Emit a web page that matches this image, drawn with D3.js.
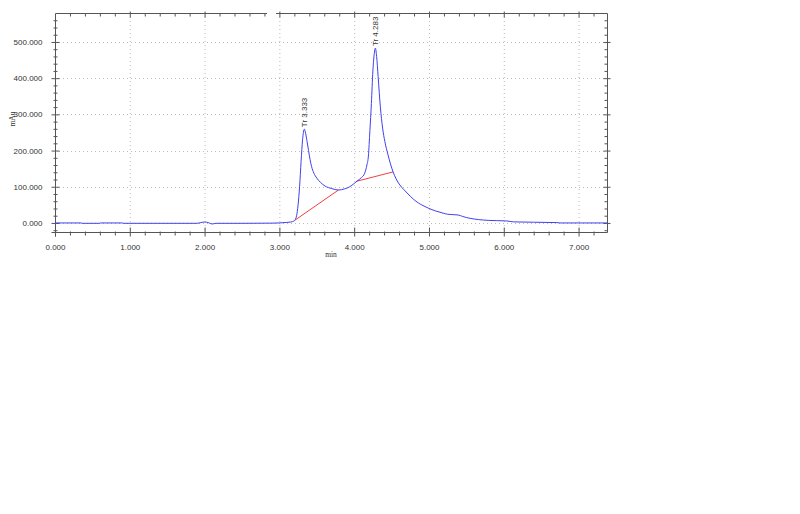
<!DOCTYPE html>
<html lang="en">
	<head>
		<meta charset="utf-8">
		<title>Chromatogram</title>
		<script src="https://d3js.org/d3.v7.min.js"></script>
		<style type="text/css">
			body { margin: 0; background: #fff; }
			svg { display: block; background: #fff; }
			.tick text { font-family: "Liberation Sans", Arial, sans-serif; font-size: 8px; fill: #333; }
			.tick line { stroke: #555; }
			.grid line { stroke: #bbb; stroke-width: 1px; stroke-dasharray: 1,3; }
			.frame { stroke: #555; stroke-width: 1px; fill: none; }
			.axis-title { font-family: "Liberation Serif", "Times New Roman", serif; font-size: 7.5px; fill: #333; }
			.peak-label { font-family: "Liberation Sans", Arial, sans-serif; font-size: 8px; fill: #333; }
		</style>
	</head>
	<body>
		<script type="text/javascript">

			//Width and height
			var w = 800;
			var h = 514;

			//Retention time (min) and signal (mAu)
			var time = [0, 0.35, 0.36, 0.6, 0.61, 0.9, 0.91, 1.9, 1.95, 2.0, 2.05, 2.1, 2.15, 2.5, 2.9, 3.0, 3.1, 3.15,
				3.2, 3.23, 3.25, 3.27, 3.29, 3.31, 3.333, 3.35, 3.37, 3.39, 3.41, 3.43, 3.46, 3.5, 3.55, 3.61, 3.7, 3.79,
				3.87, 3.94, 4.0, 4.04, 4.1, 4.14, 4.17, 4.19, 4.21, 4.23, 4.25, 4.27, 4.283, 4.3, 4.32, 4.35, 4.38,
				4.41, 4.45, 4.52, 4.56, 4.61, 4.66, 4.72, 4.79, 4.86, 4.92, 4.99, 5.09, 5.19, 5.25, 5.32, 5.39, 5.45,
				5.5, 5.6, 5.73, 5.8, 5.9, 6.04, 6.13, 6.4, 6.71, 6.75, 7.38];
			var signal = [0, 0, -1, -1, 0, 0, -1, -1, 1, 2.5, 1, -3, -1, -1, -0.5, 0, 1.5, 2.5,
				6, 20, 50, 100, 170, 230, 259, 248, 225, 200, 175, 156, 138, 124, 112, 102, 95, 91,
				94, 100, 109, 116, 126, 137, 160, 185, 255, 330, 420, 470, 483, 460, 405, 320, 262,
				225, 190, 141, 122, 105, 93, 80, 66, 55, 48, 41, 33, 27, 24, 23, 22, 18,
				15, 11, 8, 7, 6.5, 5.5, 3, 2, 1, 0, 0];

			//Integration baselines drawn under the peaks (two segments)
			var baseTime = [[3.21, 3.79], [4.03, 4.52]];
			var baseSignal = [[8, 91], [115, 141]];

			//Peak labels
			var peakTime = [3.333, 4.283];
			var peakSignal = [259, 483];
			var peakText = ["Tr 3.333", "Tr 4.283"];

			//Ticks
			var xMajor = [0, 1, 2, 3, 4, 5, 6, 7];
			var yMajor = [0, 100, 200, 300, 400, 500];

			var margin = {left: 55, top: 13, right: 607, bottom: 232};

			var x = d3.scaleLinear().domain([0, 7.38]).range([margin.left, margin.right]);
			var y = d3.scaleLinear().domain([-25, 580]).range([margin.bottom, margin.top]);

			var xMinor = d3.range(0, 7.38, 0.2).filter(function(d) { return Math.abs(d - Math.round(d)) > 1e-6; });
			var yMinor = d3.range(-20, 580, 20).filter(function(d) { return d % 100 !== 0; });

			var fmt = d3.format(".3f");

			//Create SVG element
			var svg = d3.select("body")
						.append("svg")
						.attr("width", w)
						.attr("height", h);

			//Grid
			svg.append("g").attr("class", "grid")
				.selectAll("line")
				.data(xMajor.filter(function(d) { return d > 0; }))
				.enter().append("line")
				.attr("x1", function(d) { return x(d) + 0.5; })
				.attr("x2", function(d) { return x(d) + 0.5; })
				.attr("y1", margin.top)
				.attr("y2", margin.bottom);

			svg.append("g").attr("class", "grid")
				.selectAll("line")
				.data(yMajor)
				.enter().append("line")
				.attr("x1", margin.left)
				.attr("x2", margin.right)
				.attr("y1", function(d) { return Math.round(y(d)) + 0.5; })
				.attr("y2", function(d) { return Math.round(y(d)) + 0.5; });

			//Axes, ticks crossing the frame lines
			function ticks(axis, pos, lo, hi, vertical) {
				var g = svg.append("g").attr("transform", pos).call(axis);
				g.select(".domain").remove();
				g.selectAll(".tick line")
					.attr(vertical ? "x1" : "y1", lo)
					.attr(vertical ? "x2" : "y2", hi);
				return g;
			}

			var xb = "translate(0," + (margin.bottom + 0.5) + ")";
			var xt = "translate(0," + (margin.top + 0.5) + ")";
			var yl = "translate(" + (margin.left + 0.5) + ",0)";
			var yr = "translate(" + (margin.right + 0.5) + ",0)";

			ticks(d3.axisBottom(x).tickValues(xMajor).tickFormat(fmt).tickSizeOuter(0).tickPadding(6), xb, -5, 4, false);
			ticks(d3.axisBottom(x).tickValues(xMinor).tickFormat("").tickSizeOuter(0), xb, -1, 3, false);
			ticks(d3.axisTop(x).tickValues(xMajor.filter(function(d) { return d > 0; })).tickFormat("").tickSizeOuter(0), xt, -2, 4, false);
			ticks(d3.axisTop(x).tickValues(xMinor).tickFormat("").tickSizeOuter(0), xt, 0, 3, false);

			ticks(d3.axisLeft(y).tickValues(yMajor).tickFormat(fmt).tickSizeOuter(0).tickPadding(7), yl, -4, 4, true);
			ticks(d3.axisLeft(y).tickValues(yMinor).tickFormat("").tickSizeOuter(0), yl, -2, 2, true);
			ticks(d3.axisRight(y).tickValues(yMajor).tickFormat("").tickSizeOuter(0), yr, -4, 3, true);
			ticks(d3.axisRight(y).tickValues(yMinor).tickFormat("").tickSizeOuter(0), yr, -3, 0, true);

			//Frame (top border has a small break)
			var fx0 = margin.left + 0.5, fx1 = margin.right + 0.5;
			var fy0 = margin.top + 0.5, fy1 = margin.bottom + 0.5;
			svg.append("path").attr("class", "frame")
				.attr("d", "M" + (fx0 - 4) + "," + fy1 + "H" + fx1 + "V" + fy0 + "H276" +
					"M267," + fy0 + "H" + fx0 + "V" + (fy1 + 4));

			//Axis titles
			svg.append("text").attr("class", "axis-title")
				.attr("transform", "translate(15,119)rotate(-90)")
				.attr("text-anchor", "middle")
				.text("mAu");
			svg.append("text").attr("class", "axis-title")
				.attr("x", 331).attr("y", 257)
				.attr("text-anchor", "middle")
				.text("min");

			//Baselines
			var line = d3.line()
				.x(function(d) { return x(d[0]); })
				.y(function(d) { return y(d[1]); });

			svg.append("g").selectAll("path")
				.data(baseTime)
				.enter().append("path")
				.attr("d", function(d, i) { return line(d.map(function(t, j) { return [t, baseSignal[i][j]]; })); })
				.attr("fill", "none")
				.attr("stroke", "#f04040")
				.attr("stroke-width", 1);

			//Signal trace
			var trace = time.map(function(t, i) { return [t, signal[i]]; });
			svg.append("path")
				.attr("d", line.curve(d3.curveMonotoneX)(trace))
				.attr("fill", "none")
				.attr("stroke", "#4040f0")
				.attr("stroke-width", 1);

			//Peak labels
			svg.append("g").selectAll("text")
				.data(peakText)
				.enter().append("text")
				.attr("class", "peak-label")
				.attr("transform", function(d, i) {
					return "translate(" + (x(peakTime[i]) + 3) + "," + (y(peakSignal[i]) - 2) + ")rotate(-90)";
				})
				.text(function(d) { return d; });

		</script>
	</body>
</html>
